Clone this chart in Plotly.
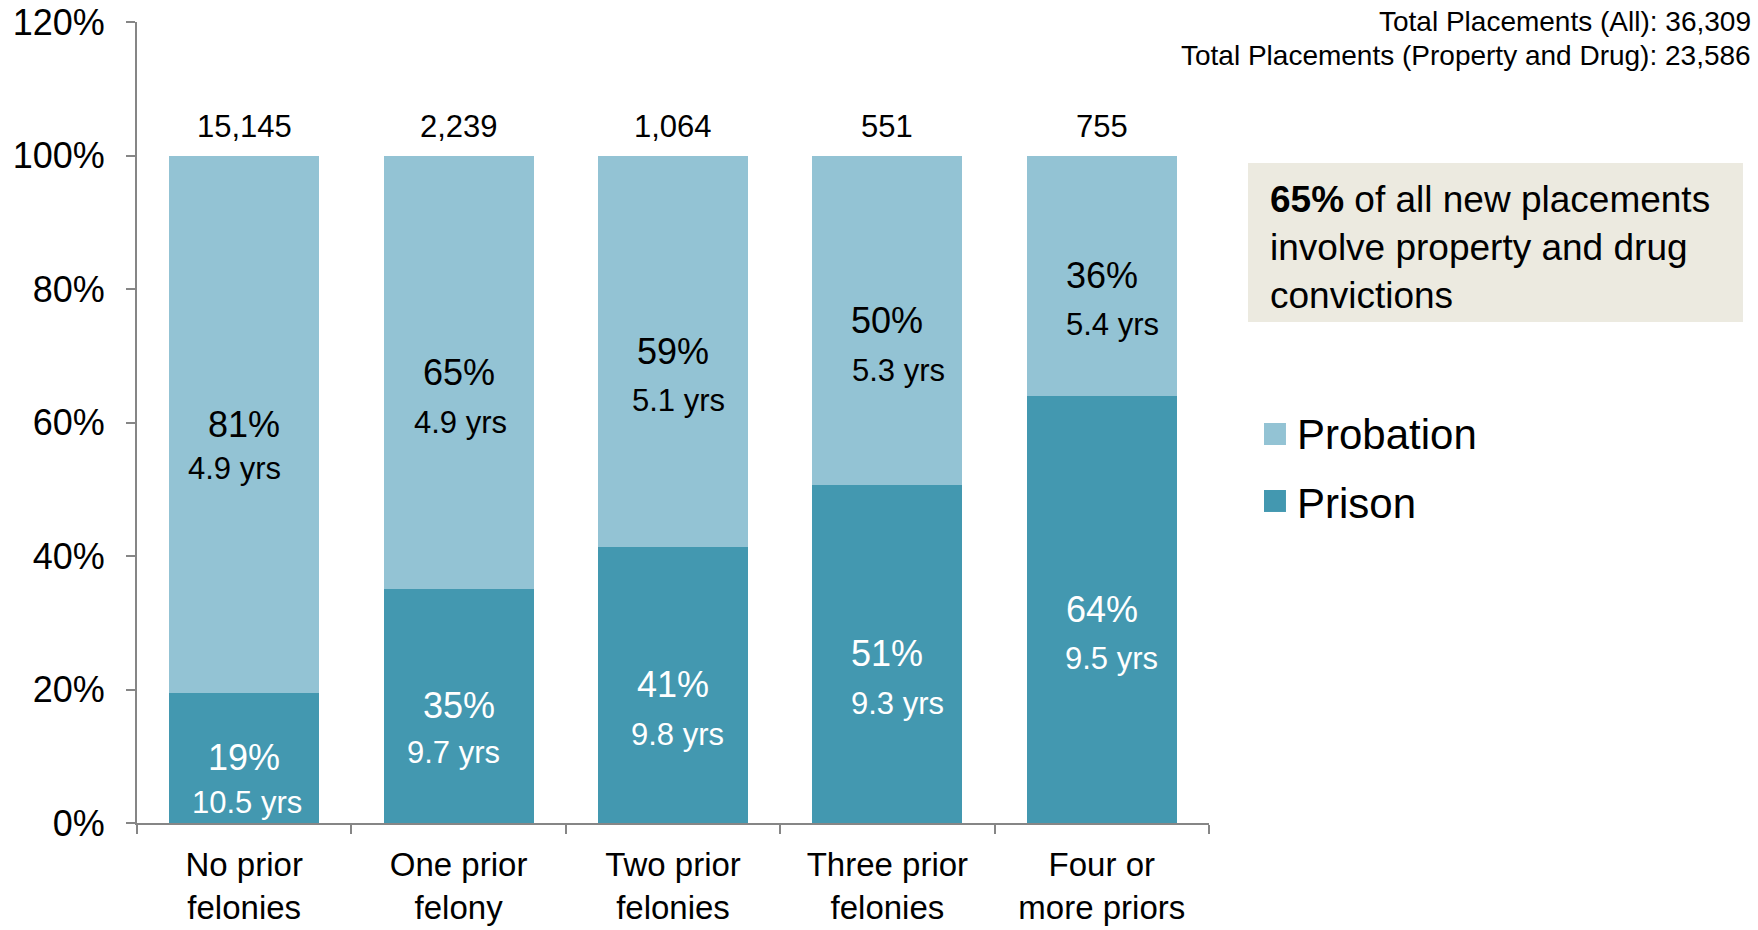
import plotly.graph_objects as go

# ---------------- data ----------------
categories = ["No prior<br>felonies", "One prior<br>felony", "Two prior<br>felonies",
              "Three prior<br>felonies", "Four or<br>more priors"]
prison_pct = [19.5, 35.1, 41.4, 50.7, 63.9]
probation_pct = [80.5, 64.9, 58.6, 49.3, 36.1]
prison_labels = ["19%", "35%", "41%", "51%", "64%"]
probation_labels = ["81%", "65%", "59%", "50%", "36%"]
prison_years = ["10.5 yrs", "9.7 yrs", "9.8 yrs", "9.3 yrs", "9.5 yrs"]
probation_years = ["4.9 yrs", "4.9 yrs", "5.1 yrs", "5.3 yrs", "5.4 yrs"]
totals = ["15,145", "2,239", "1,064", "551", "755"]
y_ticks = [0, 20, 40, 60, 80, 100, 120]

# ---------------- style ----------------
FONT = "Liberation Sans, Arial, Helvetica, sans-serif"
C_PROB = "#93C3D4"
C_PRIS = "#4398B0"
AXIS_GREY = "#868686"
prob_yrs_xshift = [-10, 2, 5, 11, 11]
pris_yrs_xshift = [3, -5, 4, 10, 10]
prob_yrs_yshift = [-44, -50, -49, -50, -49]
pris_yrs_yshift = [-45, -47, -50, -50, -49]

fig = go.Figure()
fig.add_trace(go.Bar(x=categories, y=prison_pct, name="Prison",
                     marker=dict(color=C_PRIS, line=dict(width=0)), showlegend=False,
                     hoverinfo="skip"))
fig.add_trace(go.Bar(x=categories, y=probation_pct, name="Probation",
                     marker=dict(color=C_PROB, line=dict(width=0)), showlegend=False,
                     hoverinfo="skip"))

ann = []
for i, cat in enumerate(categories):
    top = prison_pct[i] + probation_pct[i]
    # totals above bars
    ann.append(dict(x=cat, y=top, xref="x", yref="y", text=totals[i], showarrow=False,
                    yshift=29, yanchor="middle",
                    font=dict(family=FONT, size=31, color="#000000")))
    # probation labels
    mid_prob = prison_pct[i] + probation_pct[i] / 2
    ann.append(dict(x=cat, y=mid_prob, xref="x", yref="y", text=probation_labels[i],
                    showarrow=False, yanchor="middle",
                    font=dict(family=FONT, size=36, color="#000000")))
    ann.append(dict(x=cat, y=mid_prob, xref="x", yref="y", text=probation_years[i],
                    showarrow=False, yanchor="middle", yshift=prob_yrs_yshift[i],
                    xshift=prob_yrs_xshift[i],
                    font=dict(family=FONT, size=31, color="#000000")))
    # prison labels
    mid_pris = prison_pct[i] / 2
    ann.append(dict(x=cat, y=mid_pris, xref="x", yref="y", text=prison_labels[i],
                    showarrow=False, yanchor="middle",
                    font=dict(family=FONT, size=36, color="#FFFFFF")))
    ann.append(dict(x=cat, y=mid_pris, xref="x", yref="y", text=prison_years[i],
                    showarrow=False, yanchor="middle", yshift=pris_yrs_yshift[i],
                    xshift=pris_yrs_xshift[i],
                    font=dict(family=FONT, size=31, color="#FFFFFF")))

# top-right totals
ann.append(dict(x=1.5075, y=1.0012, xref="paper", yref="paper",
                text="Total Placements (All): 36,309", showarrow=False,
                xanchor="right", yanchor="middle",
                font=dict(family=FONT, size=28, color="#000000")))
ann.append(dict(x=1.5075, y=0.9588, xref="paper", yref="paper",
                text="Total Placements (Property and Drug): 23,586", showarrow=False,
                xanchor="right", yanchor="middle",
                font=dict(family=FONT, size=28, color="#000000")))

# callout text
ann.append(dict(x=1.0550, y=0.7191, xref="paper", yref="paper",
                text="<b>65%</b> of all new placements<br>involve property and drug<br>convictions",
                showarrow=False, xanchor="left", yanchor="middle", align="left",
                font=dict(family=FONT, size=37, color="#000000")))

# legend text
ann.append(dict(x=1.0802, y=0.4844, xref="paper", yref="paper", text="Probation",
                showarrow=False, xanchor="left", yanchor="middle",
                font=dict(family=FONT, size=42, color="#000000")))
ann.append(dict(x=1.0802, y=0.3995, xref="paper", yref="paper", text="Prison",
                showarrow=False, xanchor="left", yanchor="middle",
                font=dict(family=FONT, size=42, color="#000000")))

shapes = [
    dict(type="rect", xref="paper", yref="paper", x0=1.0364, x1=1.4981, y0=0.6255, y1=0.8240,
         fillcolor="#ECEAE0", line=dict(width=0), layer="below"),
    dict(type="rect", xref="paper", yref="paper", x0=1.0513, x1=1.0718, y0=0.4719, y1=0.4994,
         fillcolor=C_PROB, line=dict(width=0)),
    dict(type="rect", xref="paper", yref="paper", x0=1.0513, x1=1.0718, y0=0.3883, y1=0.4157,
         fillcolor=C_PRIS, line=dict(width=0)),
]

fig.update_layout(
    barmode="stack",
    bargap=0.30,
    width=1758, height=930,
    margin=dict(l=137, r=549, t=22, b=107, autoexpand=False),
    plot_bgcolor="#FFFFFF", paper_bgcolor="#FFFFFF",
    annotations=ann, shapes=shapes,
    showlegend=False,
    xaxis=dict(showline=True, linecolor=AXIS_GREY, linewidth=2,
               ticks="outside", tickson="boundaries", ticklen=9, tickwidth=2,
               tickcolor=AXIS_GREY, showgrid=False, zeroline=False,
               ticklabelstandoff=11,
               tickfont=dict(family=FONT, size=33, color="#000000")),
    yaxis=dict(range=[0, 120], tickvals=y_ticks, ticktext=[f"{v}%" for v in y_ticks],
               showline=True, linecolor=AXIS_GREY, linewidth=2,
               ticks="outside", ticklen=9, tickwidth=2, tickcolor=AXIS_GREY,
               showgrid=False, zeroline=False, ticklabelstandoff=14,
               tickfont=dict(family=FONT, size=36, color="#000000")),
)

fig.write_html("out.html")
